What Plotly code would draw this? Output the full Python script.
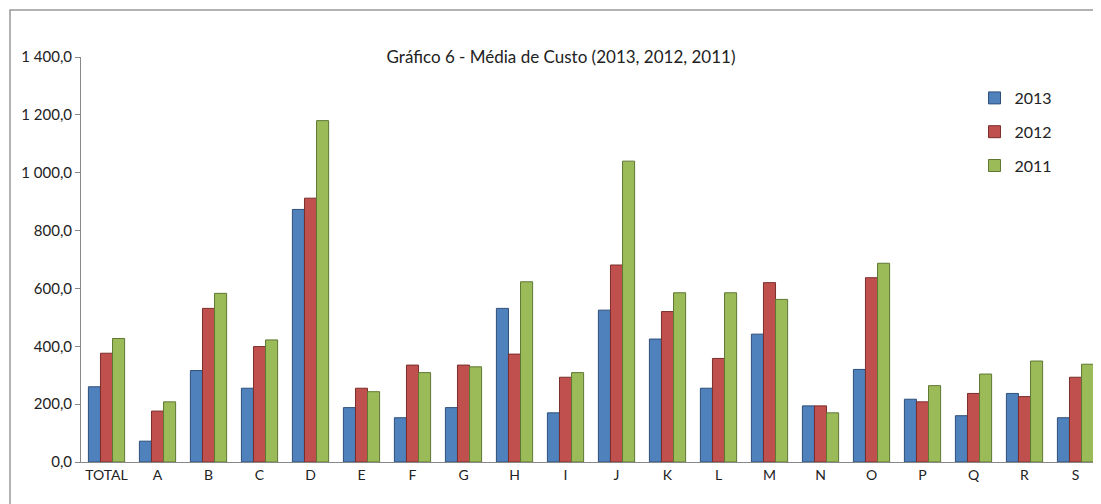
import plotly.graph_objects as go

categories = ["TOTAL", "A", "B", "C", "D", "E", "F", "G", "H", "I", "J",
              "K", "L", "M", "N", "O", "P", "Q", "R", "S"]
v2013 = [260, 72, 316, 255, 873, 188, 153, 188, 531, 170, 525,
         425, 255, 442, 194, 320, 217, 160, 237, 153]
v2012 = [376, 176, 531, 399, 912, 255, 335, 335, 373, 293, 681,
         520, 358, 620, 194, 637, 208, 237, 226, 293]
v2011 = [427, 208, 583, 422, 1180, 243, 309, 329, 623, 309, 1040,
         585, 585, 562, 170, 687, 264, 304, 349, 338]
series_names = ["2013", "2012", "2011"]
tick_vals = [0, 200, 400, 600, 800, 1000, 1200, 1400]
tick_text = ["0,0", "200,0", "400,0", "600,0", "800,0", "1 000,0", "1 200,0", "1 400,0"]

colors = ["#4F81BD", "#C0504D", "#9BBB59"]
edges = ["#2E4F78", "#7A2E2C", "#5F7733"]

fig = go.Figure()
for i, (name, vals) in enumerate(zip(series_names, [v2013, v2012, v2011])):
    fig.add_trace(go.Bar(
        x=categories, y=vals, name=name, legendgroup=name,
        marker=dict(color=colors[i], line=dict(color=edges[i], width=1)),
    ))

font_family = "Lato, 'Open Sans', sans-serif"
W, H = 1093, 496
fig.update_layout(
    width=W, height=H,
    margin=dict(l=73, r=0, t=49, b=42),
    paper_bgcolor="white", plot_bgcolor="white",
    barmode="group", bargap=0.29, bargroupgap=0,
    font=dict(family=font_family, size=13, color="#222222"),
    title=dict(text="Gráfico 6 - Média de Custo (2013, 2012, 2011)",
               x=553 / W, xref="container", xanchor="center",
               y=1 - 49 / H, yref="container", yanchor="middle",
               font=dict(family=font_family, size=17, color="#222222")),
    showlegend=True,
    legend=dict(x=0.876, y=1 - (81 - 57) / 405, xanchor="left", yanchor="top",
                traceorder="grouped", tracegroupgap=10,
                font=dict(family=font_family, size=16, color="#222222"),
                bgcolor="rgba(0,0,0,0)"),
    xaxis=dict(showline=True, linecolor="#888888", linewidth=1,
               ticks="", showgrid=False, tickfont=dict(size=14)),
    yaxis=dict(range=[0, 1400], tickvals=tick_vals, ticktext=tick_text,
               showline=True, linecolor="#888888", linewidth=1,
               ticks="outside", ticklen=5, tickcolor="#888888",
               showgrid=False, zeroline=False, tickfont=dict(size=15)),
    shapes=[dict(type="rect", xref="paper", yref="paper",
                 x0=(10 - 81) / 1020, x1=1.02, y0=-0.3, y1=(462 - 10) / 405,
                 line=dict(color="#999999", width=1.5), layer="below")],
)

fig.write_html("out.html")
